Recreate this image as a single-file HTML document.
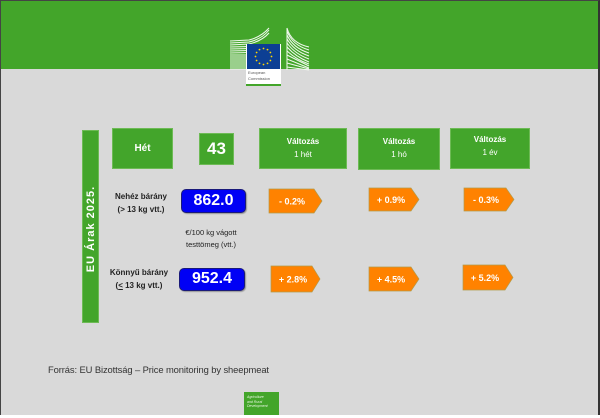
<!DOCTYPE html>
<html><head><meta charset="utf-8"><style>
*{margin:0;padding:0;box-sizing:border-box}
html,body{width:600px;height:417px;overflow:hidden;background:#fff}
#c{position:absolute;left:0;top:0;width:600px;height:415px;background:#d9d9d9;border:1px solid #444;border-right:2px solid #333;border-bottom:none;font-family:"Liberation Sans",sans-serif}
.abs{position:absolute}
.g{background:#43a52b;color:#fff;text-align:center;font-weight:bold;border:1px solid #6dba55}
.blue{background:#0000f5;border:1.5px solid #1a1a7a;border-radius:5px;color:#fff;font-weight:bold;font-size:16px;text-align:center;box-shadow:1px 1px 1px rgba(0,0,0,.3)}
.lbl{font-size:8px;font-weight:bold;color:#222;text-align:center;line-height:13px}
</style></head><body>
<div id="c">
<div class="abs" style="left:0;top:0;width:597px;height:68px;background:#43a52a"></div>
<svg class="abs" style="left:228px;top:24px" width="84" height="46" viewBox="0 0 84 46">
<g stroke="#f2f9ef" stroke-width="1" fill="none">
<path d="M1 16 L20 15 Q32 12 40 3"/><path d="M1 18 L20 17 Q33 14 40 5"/><path d="M1 20 L20 19 Q33 16 40 8"/>
<path d="M1 22 L40 21"/><path d="M1 24 L40 23"/><path d="M1 26 L40 25"/><path d="M1 28 L40 27"/><path d="M1 30 L40 30"/>
<path d="M1 32 L40 32"/><path d="M1 34 L40 34"/><path d="M1 36 L40 36"/><path d="M1 38 L40 38"/><path d="M1 40 L40 40"/><path d="M1 42 L40 42"/><path d="M1 44 L40 44"/>
<path d="M58 3 Q62 18 80 22"/><path d="M58 6 Q63 20 80 25"/><path d="M58 10 Q64 23 80 28"/><path d="M58 14 Q65 26 80 31"/>
<path d="M58 18 Q66 29 80 34"/><path d="M58 22 Q67 32 80 37"/><path d="M58 26 Q68 35 80 39"/><path d="M58 30 L80 41"/><path d="M58 34 L80 43"/><path d="M58 38 L80 44"/><path d="M58 42 L80 45"/>
<path d="M58 3 L58 45"/>
</g>
</svg>
<div class="abs" style="left:245px;top:43px;width:35px;height:42px;background:#fff"></div>
<div class="abs" style="left:246px;top:43px;width:33px;height:25px;background:#0c3f94"></div>
<svg class="abs" style="left:246px;top:43px" width="33" height="25">
<g fill="#ffd800">
<circle cx="16.5" cy="4.5" r="0.9"/><circle cx="20.5" cy="5.6" r="0.9"/><circle cx="23.4" cy="8.5" r="0.9"/><circle cx="24.5" cy="12.5" r="0.9"/><circle cx="23.4" cy="16.5" r="0.9"/><circle cx="20.5" cy="19.4" r="0.9"/><circle cx="16.5" cy="20.5" r="0.9"/><circle cx="12.5" cy="19.4" r="0.9"/><circle cx="9.6" cy="16.5" r="0.9"/><circle cx="8.5" cy="12.5" r="0.9"/><circle cx="9.6" cy="8.5" r="0.9"/><circle cx="12.5" cy="5.6" r="0.9"/>
</g></svg>
<div class="abs" style="left:247px;top:69px;font-size:4px;line-height:6px;color:#555">European<br>Commission</div>
<div class="abs" style="left:245px;top:83px;width:35px;height:2px;background:#43a52a"></div>

<div class="abs g" style="left:81px;top:129px;width:17px;height:193px"></div>
<div class="abs" style="left:89.5px;top:228px;width:0;height:0"><div style="position:absolute;left:-60px;top:-7px;width:120px;height:14px;transform:rotate(-90deg);color:#fff;font-weight:bold;font-size:11px;text-align:center;line-height:14px;letter-spacing:1px">EU Árak 2025.</div></div>

<div class="abs g" style="left:111px;top:127px;width:61px;height:41px;font-size:10px;line-height:39px">Hét</div>
<div class="abs g" style="left:198px;top:132px;width:35px;height:32px;font-size:17px;line-height:30px">43</div>
<div class="abs g" style="left:258px;top:127px;width:88px;height:41px;font-size:8px;line-height:13px;padding-top:6px">Változás<br><span style="font-weight:normal">1 hét</span></div>
<div class="abs g" style="left:357px;top:127px;width:82px;height:42px;font-size:8px;line-height:13px;padding-top:6px">Változás<br><span style="font-weight:normal">1 hó</span></div>
<div class="abs g" style="left:449px;top:127px;width:80px;height:41px;font-size:8px;line-height:13px;padding-top:4px">Változás<br><span style="font-weight:normal">1 év</span></div>

<div class="abs lbl" style="left:105px;top:189px;width:70px">Nehéz bárány<br>(&gt; 13 kg vtt.)</div>
<div class="abs blue" style="left:180px;top:188px;width:65px;height:24px;line-height:21px">862.0</div>
<div class="abs lbl" style="left:175px;top:226px;width:70px;font-weight:normal;line-height:12px;font-size:7.5px">€/100 kg vágott<br>testtömeg (vtt.)</div>
<div class="abs lbl" style="left:103px;top:265px;width:70px">Könnyű bárány<br>(<u>&lt;</u> 13 kg vtt.)</div>
<div class="abs blue" style="left:178px;top:267px;width:66px;height:23px;line-height:20px">952.4</div>

<svg class="abs" style="left:0;top:0" width="600" height="417">
<g fill="#ff8200" stroke="#b39a4a" stroke-width="0.7">
<path d="M268 188 H313 L321 200 L313 212 H268 Z"/>
<path d="M368 187 H410 L418 198.5 L410 210 H368 Z"/>
<path d="M463 187 H505 L513 198.5 L505 210 H463 Z"/>
<path d="M270 265 H311 L319 278 L311 291 H270 Z"/>
<path d="M368 266 H410 L418 278 L410 290 H368 Z"/>
<path d="M462 264 H504 L512 276.5 L504 289 H462 Z"/>
</g>
<g fill="#fff" font-family="Liberation Sans, sans-serif" font-size="9" font-weight="bold" text-anchor="middle">
<text x="291" y="203.5">- 0.2%</text>
<text x="390" y="202">+ 0.9%</text>
<text x="485" y="202">- 0.3%</text>
<text x="292" y="281.5">+ 2.8%</text>
<text x="390" y="281.5">+ 4.5%</text>
<text x="484" y="280">+ 5.2%</text>
</g>
</svg>

<div class="abs" style="left:47px;top:363px;font-size:9.4px;color:#333;white-space:nowrap;letter-spacing:-0.1px">Forrás: EU Bizottság – Price monitoring by sheepmeat</div>
<div class="abs" style="left:243px;top:391px;width:35px;height:24px;background:#43a52a;color:#e8f5e0;font-size:3.5px;font-style:italic;line-height:4.5px;padding:3px 0 0 3px">Agriculture<br>and Rural<br>Development</div>
</div>
<div class="abs" style="left:0;top:415px;width:600px;height:2px;background:#fff"></div>
</body></html>
